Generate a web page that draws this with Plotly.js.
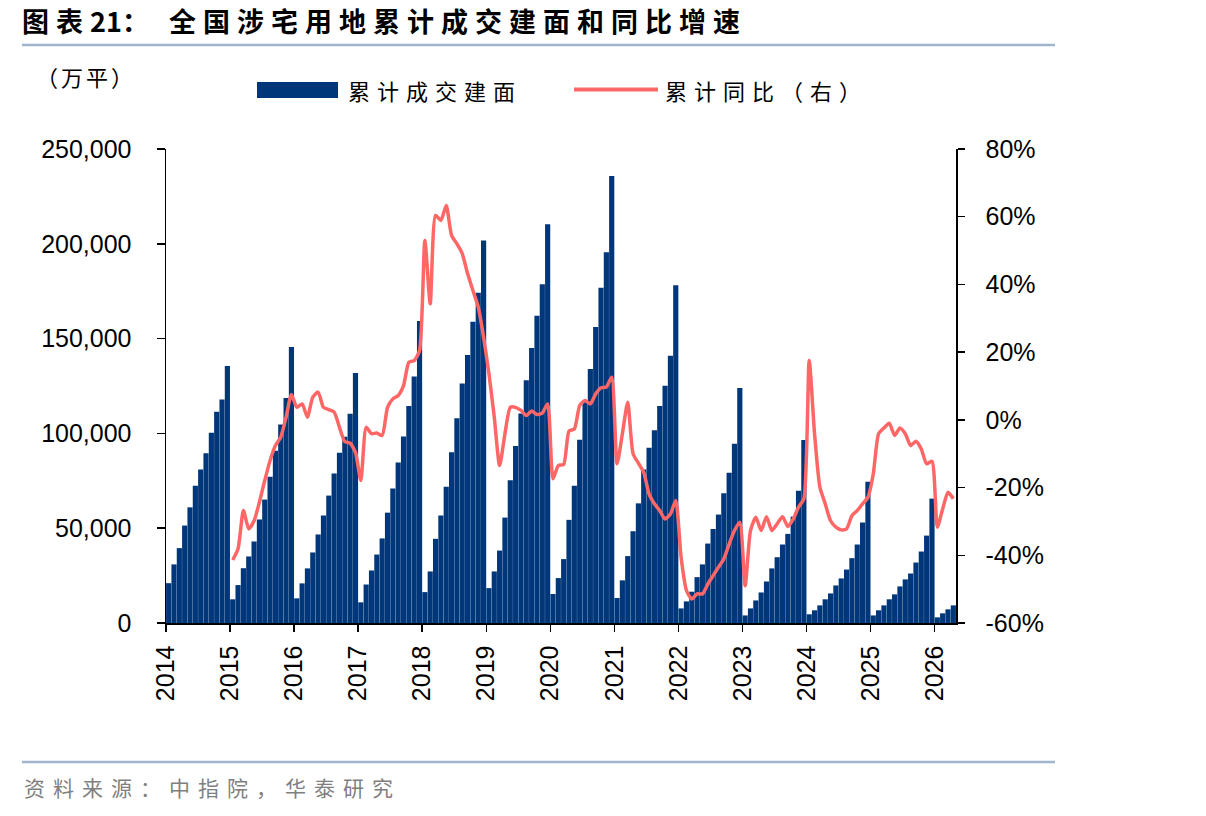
<!DOCTYPE html>
<html>
<head>
<meta charset="utf-8">
<script src="https://cdn.plot.ly/plotly-3.0.1.min.js"></script>
<style>
  html, body { margin: 0; padding: 0; background: #ffffff; }
  #chart { width: 1206px; height: 816px; }
  .gtitle { letter-spacing: 7px; }
  g.annotation[data-index="0"] .annotation-text { letter-spacing: 3px; }
  g.annotation[data-index="1"] .annotation-text,
  g.annotation[data-index="2"] .annotation-text { letter-spacing: 7px; }
  g.annotation[data-index="3"] .annotation-text { letter-spacing: 8px; }
</style>
</head>
<body>
<div id="chart"></div>
<script>
// Year labels along the bottom axis
const yearLabels = ['2014', '2015', '2016', '2017', '2018', '2019', '2020',
                    '2021', '2022', '2023', '2024', '2025', '2026'];

// Cumulative transacted floor area of residential-related land, 10k sq m (monthly, YTD)
const cumulativeArea = [
  21000, 30900, 39500, 51400, 61000, 72400, 80900, 89500, 100300, 111400, 117900, 135600,
  12500, 20000, 28900, 35100, 43000, 54600, 65100, 77200, 90900, 104700, 118700, 145600,
  13000, 20900, 28800, 37200, 46700, 56700, 67200, 78900, 89800, 98200, 110300, 131900,
  10900, 20300, 27700, 36100, 44600, 58200, 70900, 84700, 98400, 114500, 130000, 159300,
  16300, 27200, 44400, 56700, 71900, 90000, 108000, 126300, 141400, 158900, 174200, 201700,
  18400, 27200, 38200, 55600, 75300, 93300, 110500, 128000, 145100, 162100, 178700, 210300,
  15300, 23700, 33700, 54400, 72400, 96600, 117200, 134000, 156100, 176800, 195600, 235700,
  13200, 22500, 35300, 48400, 63100, 80900, 92400, 101600, 114500, 125100, 140900, 178200,
  7700, 11400, 16500, 24200, 30900, 41900, 49600, 57200, 68400, 79300, 94500, 124000,
  4000, 7700, 11900, 16100, 21900, 28800, 34700, 41400, 47000, 56100, 69800, 96500,
  4600, 6700, 9300, 12500, 15600, 19800, 23500, 28200, 34200, 41400, 53000, 74500,
  4000, 6700, 9300, 12500, 15100, 19300, 23000, 26100, 31900, 37700, 46100, 65600,
  3000, 5100, 7200, 9300
];

// Year-on-year change of the cumulative area, %, from Jan 2015
const cumulativeYoY = [
  -41.4, -38.1, -26.8, -32.2, -29.8, -24.3, -17.9, -12.0, -7.6, -5.1, 0.8, 7.5,
  3.7, 4.7, 0.8, 6.7, 8.2, 3.7, 3.0, 2.3, -2.2, -6.4, -6.9, -9.6,
  -17.9, -2.2, -4.1, -3.9, -4.6, 3.7, 6.2, 7.2, 10.1, 17.0, 17.5, 20.5,
  53.0, 34.3, 60.4, 58.9, 63.3, 54.5, 52.0, 49.1, 43.2, 38.2, 33.3, 24.4,
  13.6, 0.8, -13.5, -4.1, 3.7, 3.7, 2.8, 1.3, 2.6, 1.6, 2.0, 4.7,
  -17.4, -13.5, -13.2, -3.3, -2.7, 4.2, 5.7, 4.7, 7.7, 9.5, 9.7, 12.6,
  -13.0, -4.1, 5.2, -10.0, -12.8, -15.5, -21.9, -24.8, -26.8, -29.3, -27.8, -23.8,
  -40.6, -50.4, -52.9, -51.4, -51.4, -48.5, -46.0, -43.5, -41.1, -36.7, -32.7, -30.2,
  -49.0, -32.7, -28.8, -32.7, -28.6, -32.7, -30.7, -28.6, -31.5, -29.3, -25.8, -23.3,
  17.5, -4.1, -19.9, -24.8, -29.8, -31.7, -32.5, -32.2, -28.3, -26.8, -24.8, -22.9,
  -16.0, -4.1, -2.4, -1.0, -4.6, -2.4, -4.1, -7.6, -6.3, -8.6, -13.0, -12.2,
  -31.7, -26.3, -21.4, -23.3
];

// Right-axis ticks
const yoyTicks = [-60, -40, -20, 0, 20, 40, 60, 80];
const yoyTickText = yoyTicks.map(v => v + '%');

// Month labels (category of each bar)
const monthLabels = [];
yearLabels.forEach(y => {
  for (let m = 1; m <= 12; m++) monthLabels.push(y + '-' + String(m).padStart(2, '0'));
});
const months = monthLabels.slice(0, cumulativeArea.length);
const yoyOffset = months.length - cumulativeYoY.length;

// Month slot i sits on [i, i+1]; year ticks fall on January's left edge
const barX = months.map((_, i) => i + 0.5);
const lineX = cumulativeYoY.map((_, i) => i + yoyOffset + 0.5);
const yearTickVals = yearLabels.map((_, k) => k * 12);

const BAR_COLOR = '#00377a';
const LINE_COLOR = '#ff6666';
const RULE_COLOR = '#9fb5cd';
const CJK = '"Noto Sans CJK SC", "Noto Sans", sans-serif';
const NUM = '"Liberation Sans", Arial, sans-serif';

// Page pixel -> paper coordinate helpers for the plot area
const W = 1206, H = 816;
const M = { l: 166, r: 250, t: 149, b: 193 };
const pw = W - M.l - M.r, ph = H - M.t - M.b;
const px = x => (x - M.l) / pw;
const py = y => (H - M.b - y) / ph;

const traces = [
  {
    type: 'bar',
    name: '累计成交建面',
    x: barX,
    y: cumulativeArea,
    customdata: months,
    hovertemplate: '%{customdata}: %{y:,}<extra></extra>',
    marker: { color: BAR_COLOR, line: { width: 0 } },
    yaxis: 'y'
  },
  {
    type: 'scatter',
    mode: 'lines',
    name: '累计同比（右）',
    x: lineX,
    y: cumulativeYoY,
    customdata: months.slice(yoyOffset),
    hovertemplate: '%{customdata}: %{y:.1f}%<extra></extra>',
    line: { color: LINE_COLOR, width: 3.5, shape: 'spline', smoothing: 0.6 },
    yaxis: 'y2'
  }
];

const layout = {
  width: W,
  height: H,
  margin: M,
  paper_bgcolor: '#ffffff',
  plot_bgcolor: '#ffffff',
  showlegend: false,
  bargap: 0.03,
  title: {
    text: '图表<span style="letter-spacing:0px">21</span>： 全国涉宅用地累计成交建面和同比增速',
    font: { family: CJK, size: 27, color: '#000000', weight: 'bold' },
    xref: 'container', yref: 'container',
    x: 22 / W, xanchor: 'left',
    y: 1 - 23 / H, yanchor: 'middle'
  },
  xaxis: {
    range: [0, months.length],
    tickmode: 'array',
    tickvals: yearTickVals,
    ticktext: yearLabels,
    tickangle: -90,
    ticks: 'outside',
    ticklen: 7,
    tickwidth: 1.5,
    tickcolor: '#000000',
    showline: true,
    linecolor: '#000000',
    linewidth: 1.5,
    showgrid: false,
    zeroline: false,
    ticklabelstandoff: 4,
    tickfont: { family: NUM, size: 25, color: '#000000' }
  },
  yaxis: {
    range: [0, 250000],
    tickmode: 'linear',
    tick0: 0,
    dtick: 50000,
    tickformat: ',d',
    ticks: 'outside',
    ticklen: 8,
    tickwidth: 1.5,
    tickcolor: '#000000',
    showline: true,
    linecolor: '#000000',
    linewidth: 1.5,
    showgrid: false,
    zeroline: false,
    ticklabelstandoff: 20,
    tickfont: { family: NUM, size: 25, color: '#000000' }
  },
  yaxis2: {
    overlaying: 'y',
    side: 'right',
    range: [-60, 80],
    tickmode: 'array',
    tickvals: yoyTicks,
    ticktext: yoyTickText,
    ticks: 'outside',
    ticklen: 7,
    tickwidth: 1.5,
    tickcolor: '#000000',
    showline: true,
    linecolor: '#000000',
    linewidth: 1.5,
    showgrid: false,
    zeroline: false,
    ticklabelstandoff: 16,
    tickfont: { family: NUM, size: 25, color: '#000000' }
  },
  shapes: [
    // rule under the heading
    { type: 'line', xref: 'paper', yref: 'paper', x0: px(22), x1: px(1055), y0: py(45), y1: py(45),
      line: { color: RULE_COLOR, width: 2.5 } },
    // rule above the source note
    { type: 'line', xref: 'paper', yref: 'paper', x0: px(22), x1: px(1055), y0: py(762), y1: py(762),
      line: { color: RULE_COLOR, width: 2.5 } },
    // legend swatch: bars
    { type: 'rect', xref: 'paper', yref: 'paper', x0: px(257), x1: px(338), y0: py(98), y1: py(82),
      fillcolor: BAR_COLOR, line: { width: 0 } },
    // legend swatch: line
    { type: 'line', xref: 'paper', yref: 'paper', x0: px(574), x1: px(658), y0: py(89.5), y1: py(89.5),
      line: { color: LINE_COLOR, width: 4 } }
  ],
  annotations: [
    { text: '（万平）', xref: 'paper', yref: 'paper', x: px(34), y: py(76),
      xanchor: 'left', yanchor: 'middle', align: 'left', showarrow: false,
      font: { family: CJK, size: 22, color: '#000000' } },
    { text: '累计成交建面', xref: 'paper', yref: 'paper', x: px(346), y: py(90),
      xanchor: 'left', yanchor: 'middle', align: 'left', showarrow: false,
      font: { family: CJK, size: 22, color: '#000000' } },
    { text: '累计同比（右）', xref: 'paper', yref: 'paper', x: px(663), y: py(90),
      xanchor: 'left', yanchor: 'middle', align: 'left', showarrow: false,
      font: { family: CJK, size: 22, color: '#000000' } },
    { text: '资料来源：中指院，华泰研究', xref: 'paper', yref: 'paper', x: px(22), y: py(787),
      xanchor: 'left', yanchor: 'middle', align: 'left', showarrow: false,
      font: { family: CJK, size: 21, color: '#7f7f7f' } }
  ]
};

Plotly.newPlot('chart', traces, layout, { displayModeBar: false, staticPlot: true });
</script>
</body>
</html>
